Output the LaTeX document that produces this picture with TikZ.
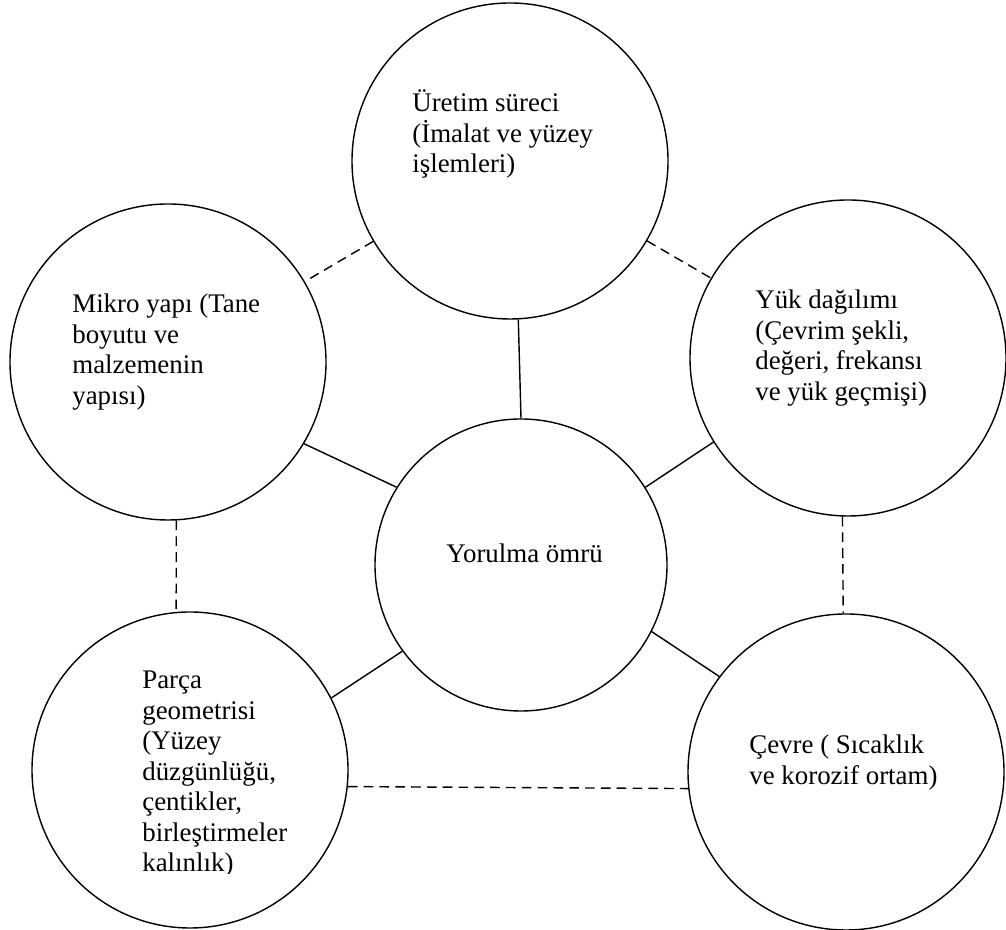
\documentclass[tikz,border=0pt]{standalone}
\usepackage{fontspec}
\setmainfont{Liberation Serif}
\usetikzlibrary{positioning}

\begin{document}
\begin{tikzpicture}[on grid,
    dashline/.style={dash pattern=on 5.5pt off 3.5pt},
    txt/.style={anchor=base west,align=left,inner sep=0pt,
      font=\fontsize{15.3}{17.4}\selectfont}]
      \useasboundingbox (0,0) rectangle (20.12,18.6);
      \begin{scope}[every node/.style={circle,thick,draw,minimum size=6.32cm,inner sep=0pt}]
        \node[minimum size=5.84cm] (Yo) at (10.42,7.30) {};
        \node (Ur) [above left= 8.08cm and 0.22cm of Yo] {};
        \node (Mi) [above left= 4.06cm and 7.06cm of Yo] {};
        \node (Yu) [above right= 4.14cm and 6.54cm of Yo] {};
        \node (Pa) [below left= 4.10cm and 6.62cm of Yo] {};
        \node (Ce) [below right= 4.14cm and 6.50cm of Yo] {};
      \end{scope}
      % text nodes sit on the baseline of their last line
      \node[txt] (Yo-t) at ([shift={(-1.50,0.04)}]Yo.center) {Yorulma ömrü};
      \node[txt] (Ur-t) at ([shift={(-1.96,-0.24)}]Ur.center)
        {Üretim süreci\\(İmalat ve yüzey\\işlemleri)};
      \node[txt] (Mi-t) at ([shift={(-1.92,-0.85)}]Mi.center)
        {Mikro yapı (Tane\\boyutu ve\\malzemenin\\yapısı)};
      \node[txt] (Yu-t) at ([shift={(-1.86,-0.85)}]Yu.center)
        {Yük dağılımı\\(Çevrim şekli,\\değeri, frekansı\\ve yük geçmişi)};
      \node[txt] (Ce-t) at ([shift={(-1.94,-0.25)}]Ce.center)
        {Çevre ( Sıcaklık\\ve korozif ortam)};
      \begin{scope}
        \clip (0,1.12) rectangle (20.12,18.6);
        \node[txt] (Pa-t) at ([shift={(-0.96,-2.04)}]Pa.center)
          {Parça\\geometrisi\\(Yüzey\\düzgünlüğü,\\çentikler,\\birleştirmeler\\kalınlık)};
      \end{scope}
      \begin{scope}[every edge/.style={draw= black, thick}]
        \path (Ur.-87) edge (Yo.90);
        \path (Mi.-31) edge (Yo.148);
        \path (Yu.212) edge (Yo.32);
        \path (Pa.27) edge (Yo.216);
        \path (Ce.143) edge (Yo.-27);
        \path (Ur) edge[dashline] (Mi);
        \path (Ur) edge[dashline] (Yu);
        \path (Mi.-87) edge[dashline] (Pa.95);
        \path (Yu.-92) edge[dashline] (Ce.91);
        \path (Pa.-6.7) edge[dashline] (Ce.186);
      \end{scope}
    \end{tikzpicture}
\end{document}
